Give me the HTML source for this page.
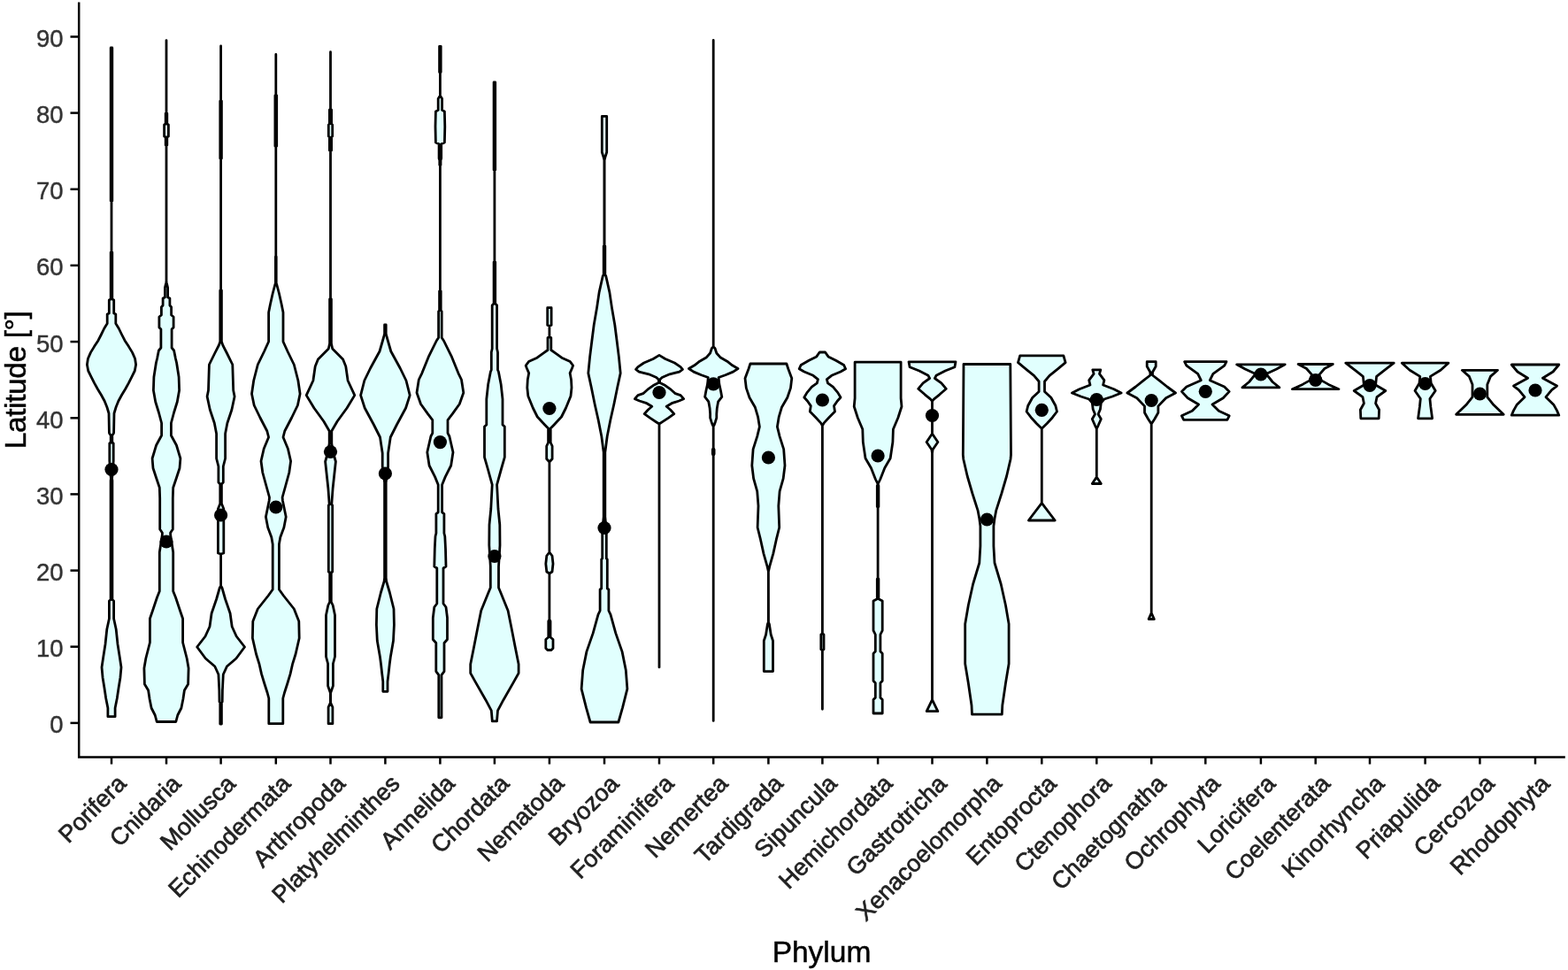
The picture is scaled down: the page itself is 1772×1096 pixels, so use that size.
<!DOCTYPE html>
<html><head><meta charset="utf-8"><title>Violin plot</title>
<style>html,body{margin:0;padding:0;background:#fff;}body{width:1772px;height:1096px;overflow:hidden;}svg{display:block;}</style>
</head><body>
<svg width="1772" height="1096" viewBox="0 0 1772 1096">
<rect width="1772" height="1096" fill="#fff"/>
<g fill="#e1fffe" stroke="#000" stroke-width="2.8" stroke-linejoin="round">
<path d="M126.8,54.0 L126.8,227.0 L126.0,228.0 L126.0,284.0 L126.8,285.0 L126.8,338.0 L128.7,339.0 L128.7,354.0 L130.8,355.0 L130.8,365.6 L134.2,371.0 L137.6,378.0 L141.0,384.7 L145.5,391.6 L149.6,398.4 L152.6,405.3 L153.6,412.0 L152.3,419.0 L148.9,425.8 L145.5,432.6 L141.7,439.5 L137.6,446.3 L133.8,453.2 L131.1,460.0 L129.0,467.0 L128.6,489.0 L128.2,490.0 L126.8,492.0 L126.8,500.0 L128.2,501.0 L128.2,521.0 L126.6,541.0 L126.9,543.0 L126.9,675.0 L126.9,677.5 L128.6,679.0 L128.6,699.0 L131.2,711.0 L133.0,728.0 L135.2,742.0 L137.0,754.0 L135.9,766.0 L134.1,777.0 L132.3,789.0 L130.1,800.0 L130.1,809.7 L121.9,809.7 L121.9,800.0 L119.7,789.0 L117.9,777.0 L116.1,766.0 L115.0,754.0 L116.8,742.0 L119.0,728.0 L120.8,711.0 L123.4,699.0 L123.4,679.0 L125.1,677.5 L125.1,675.0 L125.1,543.0 L125.4,541.0 L123.8,521.0 L123.8,501.0 L125.2,500.0 L125.2,492.0 L123.8,490.0 L123.4,489.0 L123.0,467.0 L120.9,460.0 L118.2,453.2 L114.4,446.3 L110.3,439.5 L106.5,432.6 L103.1,425.8 L99.7,419.0 L98.4,412.0 L99.4,405.3 L102.4,398.4 L106.5,391.6 L111.0,384.7 L114.4,378.0 L117.8,371.0 L121.2,365.6 L121.2,355.0 L123.3,354.0 L123.3,339.0 L125.2,338.0 L125.2,285.0 L126.0,284.0 L126.0,228.0 L125.2,227.0 L125.2,54.0Z"/>
<path d="M188.0,45.6 L188.0,127.0 L188.8,128.0 L188.8,140.0 L190.4,141.0 L190.4,154.0 L188.8,155.0 L188.8,164.0 L188.0,165.0 L188.0,318.0 L188.4,320.0 L189.6,325.0 L189.6,336.0 L191.9,337.0 L191.9,345.0 L193.6,347.0 L193.6,356.0 L196.1,358.0 L196.1,370.0 L194.1,372.0 L194.1,393.0 L196.6,396.0 L198.4,405.0 L199.6,410.0 L202.1,426.0 L202.6,441.0 L200.3,454.0 L196.6,466.0 L193.4,478.0 L193.4,492.0 L199.4,503.0 L203.9,518.0 L203.0,529.0 L199.4,540.0 L195.7,551.0 L195.3,563.0 L195.3,598.0 L192.6,602.0 L192.6,604.0 L195.7,624.0 L195.7,668.0 L198.5,675.0 L203.5,690.0 L206.6,699.0 L206.6,726.0 L211.2,744.0 L213.1,755.0 L212.6,773.0 L208.4,780.0 L206.9,790.0 L204.9,800.0 L200.8,808.0 L198.8,815.5 L177.2,815.5 L175.2,808.0 L171.1,800.0 L169.1,790.0 L167.6,780.0 L163.4,773.0 L162.9,755.0 L164.8,744.0 L169.4,726.0 L169.4,699.0 L172.5,690.0 L177.5,675.0 L180.3,668.0 L180.3,624.0 L183.4,604.0 L183.4,602.0 L180.7,598.0 L180.7,563.0 L180.3,551.0 L176.6,540.0 L173.0,529.0 L172.1,518.0 L176.6,503.0 L182.6,492.0 L182.6,478.0 L179.4,466.0 L175.7,454.0 L173.4,441.0 L173.9,426.0 L176.4,410.0 L177.6,405.0 L179.4,396.0 L181.9,393.0 L181.9,372.0 L179.9,370.0 L179.9,358.0 L182.4,356.0 L182.4,347.0 L184.1,345.0 L184.1,337.0 L186.4,336.0 L186.4,325.0 L187.6,320.0 L188.0,318.0 L188.0,165.0 L187.2,164.0 L187.2,155.0 L185.6,154.0 L185.6,141.0 L187.2,140.0 L187.2,128.0 L188.0,127.0 L188.0,45.6Z"/>
<path d="M249.6,52.0 L249.6,113.0 L250.4,114.0 L250.4,179.0 L249.6,180.0 L249.6,327.0 L250.4,328.0 L250.4,386.0 L251.8,390.0 L256.4,399.0 L262.8,412.0 L263.7,441.0 L265.1,448.0 L261.9,463.0 L256.9,478.0 L254.6,490.0 L254.6,518.0 L252.3,527.0 L252.3,545.0 L250.4,547.0 L250.4,569.0 L252.8,575.0 L252.8,589.0 L252.8,625.0 L249.6,626.0 L249.6,662.0 L250.9,664.0 L254.6,677.0 L260.1,693.0 L262.2,708.0 L267.2,719.0 L276.5,731.0 L266.9,744.0 L256.4,753.0 L252.3,762.0 L251.4,780.0 L251.2,793.0 L250.4,794.0 L250.4,818.0 L248.8,818.0 L248.8,794.0 L248.0,793.0 L247.8,780.0 L246.9,762.0 L242.8,753.0 L232.3,744.0 L222.7,731.0 L232.0,719.0 L237.0,708.0 L239.1,693.0 L244.6,677.0 L248.3,664.0 L249.6,662.0 L249.6,626.0 L246.4,625.0 L246.4,589.0 L246.4,575.0 L248.8,569.0 L248.8,547.0 L246.9,545.0 L246.9,527.0 L244.6,518.0 L244.6,490.0 L242.3,478.0 L237.3,463.0 L234.1,448.0 L235.5,441.0 L236.4,412.0 L242.8,399.0 L247.4,390.0 L248.8,386.0 L248.8,328.0 L249.6,327.0 L249.6,180.0 L248.8,179.0 L248.8,114.0 L249.6,113.0 L249.6,52.0Z"/>
<path d="M311.8,61.5 L311.8,107.0 L312.7,108.0 L312.7,165.0 L311.8,166.0 L311.8,289.0 L312.2,290.0 L312.2,320.0 L312.9,322.0 L315.4,331.5 L318.2,344.0 L320.0,353.0 L320.0,386.0 L325.0,397.0 L332.3,412.0 L336.9,430.0 L339.1,445.0 L336.4,458.0 L329.6,472.0 L321.8,487.0 L320.0,494.0 L325.4,507.0 L328.6,521.0 L326.8,534.0 L322.7,549.0 L319.1,562.0 L319.5,566.0 L323.2,584.0 L320.9,596.0 L316.8,607.0 L315.4,615.0 L315.4,666.0 L320.4,673.0 L332.3,688.0 L337.8,702.0 L338.2,721.0 L334.1,739.0 L330.5,750.7 L328.1,761.4 L324.9,772.0 L321.4,783.0 L319.8,789.0 L319.8,817.7 L303.8,817.7 L303.8,789.0 L302.2,783.0 L298.7,772.0 L295.5,761.4 L293.1,750.7 L289.5,739.0 L285.4,721.0 L285.8,702.0 L291.3,688.0 L303.2,673.0 L308.2,666.0 L308.2,615.0 L306.8,607.0 L302.7,596.0 L300.4,584.0 L304.1,566.0 L304.5,562.0 L300.9,549.0 L296.8,534.0 L295.0,521.0 L298.2,507.0 L303.6,494.0 L301.8,487.0 L294.0,472.0 L287.2,458.0 L284.5,445.0 L286.7,430.0 L291.3,412.0 L298.6,397.0 L303.6,386.0 L303.6,353.0 L305.4,344.0 L308.2,331.5 L310.7,322.0 L311.4,320.0 L311.4,290.0 L311.8,289.0 L311.8,166.0 L310.9,165.0 L310.9,108.0 L311.8,107.0 L311.8,61.5Z"/>
<path d="M373.5,58.7 L373.5,123.0 L374.6,124.0 L374.6,140.0 L375.7,141.0 L375.7,154.0 L374.6,155.0 L374.6,170.0 L373.5,171.0 L373.5,337.0 L374.4,338.0 L374.4,388.0 L375.7,394.0 L387.6,406.0 L390.8,414.0 L393.1,430.0 L400.8,446.6 L392.1,461.0 L381.2,476.0 L374.8,487.0 L374.8,501.0 L376.1,510.0 L379.4,521.5 L376.1,552.0 L374.8,570.0 L375.7,571.0 L375.7,646.0 L374.3,647.0 L374.3,680.0 L376.2,684.0 L378.5,695.0 L378.5,742.0 L376.4,750.0 L376.4,775.0 L373.6,783.0 L373.6,794.0 L375.9,799.0 L375.9,817.7 L371.1,817.7 L371.1,799.0 L373.4,794.0 L373.4,783.0 L370.6,775.0 L370.6,750.0 L368.5,742.0 L368.5,695.0 L370.8,684.0 L372.7,680.0 L372.7,647.0 L371.3,646.0 L371.3,571.0 L372.2,570.0 L370.9,552.0 L367.6,521.5 L370.9,510.0 L372.2,501.0 L372.2,487.0 L365.8,476.0 L354.9,461.0 L346.2,446.6 L353.9,430.0 L356.2,414.0 L359.4,406.0 L371.3,394.0 L372.6,388.0 L372.6,338.0 L373.5,337.0 L373.5,171.0 L372.4,170.0 L372.4,155.0 L371.3,154.0 L371.3,141.0 L372.4,140.0 L372.4,124.0 L373.5,123.0 L373.5,58.7Z"/>
<path d="M436.2,367.0 L436.2,377.0 L437.2,381.0 L441.8,397.0 L452.2,416.0 L459.0,430.0 L463.2,446.6 L458.6,461.0 L448.6,479.5 L441.3,494.0 L438.6,512.0 L438.6,527.0 L436.2,545.0 L436.2,653.0 L436.7,657.0 L440.4,669.5 L445.0,688.0 L445.4,706.0 L444.5,724.0 L441.3,742.5 L440.2,751.0 L439.1,761.0 L438.0,770.0 L438.0,781.3 L432.8,781.3 L432.8,770.0 L431.7,761.0 L430.6,751.0 L429.5,742.5 L426.3,724.0 L425.4,706.0 L425.8,688.0 L430.4,669.5 L434.1,657.0 L434.6,653.0 L434.6,545.0 L432.2,527.0 L432.2,512.0 L429.5,494.0 L422.2,479.5 L412.2,461.0 L407.6,446.6 L411.8,430.0 L418.6,416.0 L429.0,397.0 L433.6,381.0 L434.6,377.0 L434.6,367.0Z"/>
<path d="M498.2,52.3 L498.2,81.5 L497.4,82.0 L497.4,108.0 L499.6,111.6 L499.6,124.4 L502.4,126.0 L502.8,143.0 L502.4,161.0 L498.7,162.7 L498.7,179.0 L498.0,181.0 L498.0,186.5 L497.4,187.0 L497.4,328.5 L498.2,329.0 L498.2,350.4 L499.2,352.0 L499.2,381.5 L501.5,385.0 L510.6,403.4 L517.9,421.6 L521.5,429.0 L523.8,443.7 L519.3,456.5 L511.5,467.4 L506.0,474.7 L506.0,489.3 L507.9,493.0 L512.0,511.0 L509.7,526.0 L503.3,538.6 L499.6,547.7 L499.6,578.8 L501.9,580.6 L501.9,602.5 L502.8,606.0 L503.5,620.0 L504.0,640.0 L501.0,642.0 L501.0,682.0 L504.0,686.0 L505.5,698.0 L505.5,722.5 L502.0,726.5 L502.0,758.6 L499.0,762.6 L499.0,810.8 L495.8,810.8 L495.8,762.6 L492.8,758.6 L492.8,726.5 L489.3,722.5 L489.3,698.0 L490.8,686.0 L493.8,682.0 L493.8,642.0 L490.8,640.0 L491.3,620.0 L492.0,606.0 L492.9,602.5 L492.9,580.6 L495.2,578.8 L495.2,547.7 L491.5,538.6 L485.1,526.0 L482.8,511.0 L486.9,493.0 L488.8,489.3 L488.8,474.7 L483.3,467.4 L475.5,456.5 L471.0,443.7 L473.3,429.0 L476.9,421.6 L484.2,403.4 L493.3,385.0 L495.6,381.5 L495.6,352.0 L496.6,350.4 L496.6,329.0 L497.4,328.5 L497.4,187.0 L496.8,186.5 L496.8,181.0 L496.1,179.0 L496.1,162.7 L492.4,161.0 L492.0,143.0 L492.4,126.0 L495.2,124.4 L495.2,111.6 L497.4,108.0 L497.4,82.0 L496.6,81.5 L496.6,52.3Z"/>
<path d="M559.7,93.0 L559.7,192.0 L558.9,193.0 L558.9,295.7 L559.7,296.0 L559.7,343.0 L561.6,345.0 L561.6,394.0 L562.5,398.0 L562.5,418.0 L563.4,420.0 L566.2,434.6 L568.0,451.0 L568.0,480.0 L570.3,482.0 L570.3,516.7 L566.6,529.5 L561.6,547.7 L563.0,575.0 L564.8,593.0 L565.0,616.0 L563.5,640.0 L563.5,664.0 L566.0,670.0 L574.1,690.0 L578.1,710.0 L582.1,730.5 L586.1,750.6 L586.1,760.6 L580.5,770.6 L569.0,790.7 L562.5,802.8 L561.5,814.8 L556.3,814.8 L555.3,802.8 L548.8,790.7 L537.3,770.6 L531.7,760.6 L531.7,750.6 L535.7,730.5 L539.7,710.0 L543.7,690.0 L551.8,670.0 L554.3,664.0 L554.3,640.0 L552.8,616.0 L553.0,593.0 L554.8,575.0 L556.2,547.7 L551.2,529.5 L547.5,516.7 L547.5,482.0 L549.8,480.0 L549.8,451.0 L551.6,434.6 L554.4,420.0 L555.3,418.0 L555.3,398.0 L556.2,394.0 L556.2,345.0 L558.1,343.0 L558.1,296.0 L558.9,295.7 L558.9,193.0 L558.1,192.0 L558.1,93.0Z"/>
<path d="M623.1,347.7 L623.1,367.4 L620.9,368.0 L620.9,380.9 L622.8,381.5 L622.8,395.5 L626.8,398.4 L634.8,404.2 L644.3,408.6 L647.6,413.0 L646.5,416.0 L644.1,421.6 L645.5,429.0 L646.0,438.0 L645.0,447.4 L639.5,461.0 L634.5,471.0 L625.9,480.2 L622.2,484.0 L622.2,500.0 L624.1,504.0 L624.1,518.5 L620.9,522.0 L620.9,624.0 L624.0,628.0 L625.0,637.0 L624.0,646.0 L620.9,648.0 L620.9,700.0 L622.0,702.0 L622.0,720.0 L625.0,722.5 L625.0,732.5 L623.0,734.5 L618.8,734.5 L616.8,732.5 L616.8,722.5 L619.8,720.0 L619.8,702.0 L620.9,700.0 L620.9,648.0 L617.8,646.0 L616.8,637.0 L617.8,628.0 L620.9,624.0 L620.9,522.0 L617.7,518.5 L617.7,504.0 L619.6,500.0 L619.6,484.0 L615.9,480.2 L607.3,471.0 L602.3,461.0 L596.8,447.4 L595.8,438.0 L596.3,429.0 L597.7,421.6 L595.3,416.0 L594.2,413.0 L597.5,408.6 L607.0,404.2 L615.0,398.4 L619.0,395.5 L619.0,381.5 L620.9,380.9 L620.9,368.0 L618.7,367.4 L618.7,347.7Z"/>
<path d="M685.7,131.4 L685.7,172.0 L684.1,177.0 L683.1,181.0 L683.1,277.4 L683.8,278.0 L683.8,310.3 L684.8,312.0 L688.9,330.4 L691.6,348.6 L694.8,367.0 L697.1,385.0 L699.4,403.4 L701.2,421.6 L697.6,438.2 L693.9,456.5 L689.8,474.7 L686.2,493.0 L684.3,507.6 L683.8,511.0 L683.8,584.0 L685.3,600.0 L685.3,631.0 L686.3,632.0 L686.3,665.0 L687.9,666.0 L687.9,690.0 L690.0,694.4 L695.8,715.4 L703.1,736.4 L707.3,757.3 L708.9,778.3 L703.6,799.3 L698.9,816.0 L667.1,816.0 L662.4,799.3 L657.1,778.3 L658.7,757.3 L662.9,736.4 L670.2,715.4 L676.0,694.4 L678.1,690.0 L678.1,666.0 L679.7,665.0 L679.7,632.0 L680.7,631.0 L680.7,600.0 L682.2,584.0 L682.2,511.0 L681.7,507.6 L679.8,493.0 L676.2,474.7 L672.1,456.5 L668.4,438.2 L664.8,421.6 L666.6,403.4 L668.9,385.0 L671.2,367.0 L674.4,348.6 L677.1,330.4 L681.2,312.0 L682.2,310.3 L682.2,278.0 L682.9,277.4 L682.9,181.0 L681.9,177.0 L680.3,172.0 L680.3,131.4Z"/>
<path d="M745.0,401.4 L751.8,405.5 L762.3,410.0 L769.1,414.6 L771.4,417.4 L767.8,420.1 L756.8,422.8 L748.2,426.5 L745.4,429.2 L745.8,432.4 L751.8,435.6 L758.2,440.2 L763.2,444.7 L769.1,446.6 L772.6,450.7 L767.3,453.0 L759.1,455.7 L753.2,459.3 L757.6,463.0 L761.8,467.6 L755.5,472.1 L748.6,476.7 L745.0,479.0 L745.0,753.9 L745.0,753.9 L745.0,479.0 L741.4,476.7 L734.5,472.1 L728.2,467.6 L732.4,463.0 L736.8,459.3 L730.9,455.7 L722.7,453.0 L717.4,450.7 L720.9,446.6 L726.8,444.7 L731.8,440.2 L738.2,435.6 L744.2,432.4 L744.6,429.2 L741.8,426.5 L733.2,422.8 L722.2,420.1 L718.6,417.4 L720.9,414.6 L727.7,410.0 L738.2,405.5 L745.0,401.4Z"/>
<path d="M806.2,45.5 L806.2,391.8 L808.0,393.5 L809.8,399.0 L813.9,403.7 L821.7,408.2 L827.6,412.8 L834.0,416.5 L828.5,420.1 L819.8,423.8 L812.1,426.5 L812.8,433.8 L814.4,441.1 L815.8,448.4 L811.6,453.9 L810.3,461.2 L809.8,467.6 L809.8,472.1 L808.4,476.7 L807.1,480.3 L806.2,481.5 L806.2,506.0 L807.1,508.0 L807.1,513.0 L806.2,515.0 L806.2,814.4 L806.2,814.4 L806.2,515.0 L805.3,513.0 L805.3,508.0 L806.2,506.0 L806.2,481.5 L805.3,480.3 L804.0,476.7 L802.6,472.1 L802.6,467.6 L802.1,461.2 L800.8,453.9 L796.6,448.4 L798.0,441.1 L799.6,433.8 L800.3,426.5 L792.6,423.8 L783.9,420.1 L778.4,416.5 L784.8,412.8 L790.7,408.2 L798.5,403.7 L802.6,399.0 L804.4,393.5 L806.2,391.8 L806.2,45.5Z"/>
<path d="M888.9,411.0 L890.7,416.5 L894.8,427.4 L893.5,438.4 L889.8,449.3 L883.4,460.3 L880.2,471.2 L878.4,482.2 L881.1,493.1 L885.7,507.7 L887.0,526.0 L885.2,540.6 L881.1,555.2 L879.8,571.6 L880.7,596.0 L877.3,609.7 L873.8,625.6 L869.9,639.3 L868.4,646.0 L868.5,703.0 L869.4,705.2 L871.2,717.0 L873.5,724.0 L873.5,758.6 L863.3,758.6 L863.3,724.0 L865.6,717.0 L867.4,705.2 L868.3,703.0 L868.4,646.0 L866.9,639.3 L863.0,625.6 L859.5,609.7 L856.1,596.0 L857.0,571.6 L855.7,555.2 L851.6,540.6 L849.8,526.0 L851.1,507.7 L855.7,493.1 L858.4,482.2 L856.6,471.2 L853.4,460.3 L847.0,449.3 L843.3,438.4 L842.0,427.4 L846.1,416.5 L847.9,411.0Z"/>
<path d="M932.6,398.0 L936.0,402.9 L944.6,407.2 L953.7,412.5 L955.6,416.8 L950.0,420.0 L939.8,424.3 L934.4,428.6 L935.5,432.9 L941.4,437.2 L946.8,443.6 L950.0,449.0 L946.2,453.3 L942.5,458.6 L943.5,465.0 L937.1,471.5 L931.2,477.9 L929.4,481.0 L929.4,716.0 L931.0,717.0 L931.0,733.7 L929.4,734.5 L929.4,801.3 L929.4,801.3 L929.4,734.5 L927.8,733.7 L927.8,717.0 L929.4,716.0 L929.4,481.0 L927.6,477.9 L921.7,471.5 L915.3,465.0 L916.3,458.6 L912.6,453.3 L908.8,449.0 L912.0,443.6 L917.4,437.2 L923.3,432.9 L924.4,428.6 L919.0,424.3 L908.8,420.0 L903.2,416.8 L905.1,412.5 L914.2,407.2 L922.8,402.9 L926.2,398.0Z"/>
<path d="M1018.1,409.2 L1018.1,450.0 L1019.0,459.3 L1014.9,472.0 L1009.4,485.0 L1008.9,499.5 L1006.2,517.7 L999.8,528.7 L994.8,541.5 L992.1,547.0 L992.9,548.8 L992.9,572.5 L992.1,573.0 L992.1,653.0 L992.9,654.0 L992.9,676.8 L997.2,679.0 L997.2,712.3 L994.9,717.0 L994.9,736.0 L997.2,738.4 L997.2,769.3 L994.9,771.7 L994.9,788.3 L997.2,790.6 L997.2,806.0 L987.0,806.0 L987.0,790.6 L989.3,788.3 L989.3,771.7 L987.0,769.3 L987.0,738.4 L989.3,736.0 L989.3,717.0 L987.0,712.3 L987.0,679.0 L991.3,676.8 L991.3,654.0 L992.1,653.0 L992.1,573.0 L991.3,572.5 L991.3,548.8 L992.1,547.0 L989.4,541.5 L984.4,528.7 L978.0,517.7 L975.3,499.5 L974.8,485.0 L969.3,472.0 L965.2,459.3 L966.1,450.0 L966.1,409.2Z"/>
<path d="M1080.0,408.8 L1078.9,414.7 L1068.2,419.0 L1058.0,424.3 L1056.4,427.5 L1063.9,432.9 L1069.3,439.3 L1061.8,445.8 L1055.3,451.1 L1053.5,453.3 L1053.5,490.0 L1059.9,499.5 L1054.1,508.0 L1053.5,512.0 L1053.5,790.6 L1059.8,803.7 L1047.2,803.7 L1053.5,790.6 L1053.5,512.0 L1052.9,508.0 L1047.1,499.5 L1053.5,490.0 L1053.5,453.3 L1051.7,451.1 L1045.2,445.8 L1037.7,439.3 L1043.1,432.9 L1050.6,427.5 L1049.0,424.3 L1038.8,419.0 L1028.1,414.7 L1027.0,408.8Z"/>
<path d="M1141.8,411.5 L1142.5,514.0 L1142.0,519.0 L1137.6,538.0 L1131.9,557.5 L1125.8,576.6 L1124.0,586.0 L1122.9,594.5 L1122.9,617.0 L1124.0,636.0 L1131.2,660.0 L1136.5,684.0 L1140.1,705.0 L1140.1,750.0 L1136.5,771.7 L1132.8,797.0 L1132.3,807.2 L1098.5,807.2 L1098.0,797.0 L1094.3,771.7 L1090.7,750.0 L1090.7,705.0 L1094.3,684.0 L1099.6,660.0 L1106.8,636.0 L1107.9,617.0 L1107.9,594.5 L1106.8,586.0 L1105.0,576.6 L1098.9,557.5 L1093.2,538.0 L1088.8,519.0 L1088.3,514.0 L1089.0,411.5Z"/>
<path d="M1201.9,401.8 L1204.1,409.7 L1194.5,417.6 L1186.1,424.3 L1180.5,431.0 L1180.5,442.4 L1187.8,449.2 L1192.8,458.2 L1194.5,465.0 L1189.4,471.7 L1183.2,478.5 L1177.3,484.2 L1177.3,568.3 L1192.2,588.0 L1162.4,588.0 L1177.3,568.3 L1177.3,484.2 L1171.4,478.5 L1165.2,471.7 L1160.1,465.0 L1161.8,458.2 L1166.8,449.2 L1174.1,442.4 L1174.1,431.0 L1168.5,424.3 L1160.1,417.6 L1150.5,409.7 L1152.7,401.8Z"/>
<path d="M1243.8,417.8 L1242.5,422.4 L1247.9,429.7 L1246.6,435.0 L1258.9,439.7 L1267.1,444.0 L1257.1,448.0 L1247.9,451.0 L1244.3,455.2 L1243.4,462.5 L1241.1,468.0 L1244.3,473.5 L1241.1,480.8 L1239.3,484.4 L1239.3,539.0 L1244.3,546.5 L1234.3,546.5 L1239.3,539.0 L1239.3,484.4 L1237.5,480.8 L1234.3,473.5 L1237.5,468.0 L1235.2,462.5 L1234.3,455.2 L1230.7,451.0 L1221.5,448.0 L1211.5,444.0 L1219.7,439.7 L1232.0,435.0 L1230.7,429.7 L1236.1,422.4 L1234.8,417.8Z"/>
<path d="M1306.2,408.7 L1306.2,414.0 L1302.5,420.5 L1302.5,424.0 L1309.8,429.7 L1319.0,437.0 L1328.5,444.0 L1317.6,449.7 L1308.9,458.9 L1308.9,466.2 L1304.8,473.5 L1301.2,479.0 L1301.2,692.5 L1304.3,699.5 L1298.1,699.5 L1301.2,692.5 L1301.2,479.0 L1297.6,473.5 L1293.5,466.2 L1293.5,458.9 L1284.8,449.7 L1273.9,444.0 L1283.4,437.0 L1292.6,429.7 L1299.9,424.0 L1299.9,420.5 L1296.2,414.0 L1296.2,408.7Z"/>
<path d="M1386.0,408.7 L1383.7,413.2 L1370.9,422.4 L1367.3,429.7 L1383.7,437.0 L1389.2,442.4 L1382.3,449.7 L1370.0,457.0 L1377.3,464.3 L1389.2,469.8 L1386.9,474.4 L1337.7,474.4 L1335.4,469.8 L1347.3,464.3 L1354.6,457.0 L1342.3,449.7 L1335.4,442.4 L1340.9,437.0 L1357.3,429.7 L1353.7,422.4 L1340.9,413.2 L1338.6,408.7Z"/>
<path d="M1452.2,411.8 L1442.7,416.9 L1430.8,422.4 L1438.1,431.5 L1445.9,437.9 L1403.9,437.9 L1411.7,431.5 L1419.0,422.4 L1407.1,416.9 L1397.6,411.8Z"/>
<path d="M1506.3,411.5 L1496.9,416.5 L1490.7,423.6 L1493.3,429.9 L1501.4,434.4 L1513.0,439.7 L1460.4,439.7 L1472.0,434.4 L1480.1,429.9 L1482.7,423.6 L1476.5,416.5 L1467.1,411.5Z"/>
<path d="M1575.2,410.2 L1564.5,418.3 L1555.6,425.4 L1554.6,435.0 L1565.8,441.5 L1556.0,448.7 L1554.6,455.8 L1558.6,463.0 L1558.2,472.8 L1537.8,472.8 L1537.4,463.0 L1541.4,455.8 L1540.0,448.7 L1530.2,441.5 L1541.4,435.0 L1540.4,425.4 L1531.5,418.3 L1520.8,410.2Z"/>
<path d="M1636.9,410.2 L1628.0,418.3 L1616.4,425.4 L1617.2,433.0 L1622.2,441.5 L1615.9,450.5 L1616.8,459.4 L1618.6,472.8 L1602.6,472.8 L1604.4,459.4 L1605.3,450.5 L1599.0,441.5 L1604.0,433.0 L1604.8,425.4 L1593.2,418.3 L1584.3,410.2Z"/>
<path d="M1692.5,418.3 L1684.4,425.4 L1680.8,434.4 L1680.8,448.7 L1688.0,457.6 L1699.2,468.3 L1645.6,468.3 L1656.8,457.6 L1664.0,448.7 L1664.0,434.4 L1660.4,425.4 L1652.3,418.3Z"/>
<path d="M1761.8,412.0 L1755.1,420.0 L1743.4,427.2 L1759.5,436.1 L1753.6,440.6 L1747.0,448.7 L1756.0,457.6 L1759.5,463.9 L1761.8,469.2 L1708.2,469.2 L1710.5,463.9 L1714.0,457.6 L1723.0,448.7 L1716.4,440.6 L1710.5,436.1 L1726.6,427.2 L1714.9,420.0 L1708.2,412.0Z"/>
</g>
<g fill="#000">
<circle cx="126.0" cy="530.5" r="7.6"/>
<circle cx="188.0" cy="612.0" r="7.6"/>
<circle cx="249.6" cy="582.0" r="7.6"/>
<circle cx="311.8" cy="573.0" r="7.6"/>
<circle cx="373.5" cy="510.5" r="7.6"/>
<circle cx="435.4" cy="535.0" r="7.6"/>
<circle cx="497.4" cy="499.6" r="7.6"/>
<circle cx="558.9" cy="628.5" r="7.6"/>
<circle cx="620.9" cy="461.5" r="7.6"/>
<circle cx="683.0" cy="596.5" r="7.6"/>
<circle cx="745.0" cy="443.5" r="7.6"/>
<circle cx="806.2" cy="433.8" r="7.6"/>
<circle cx="868.4" cy="517.0" r="7.6"/>
<circle cx="929.4" cy="452.0" r="7.6"/>
<circle cx="992.1" cy="515.0" r="7.6"/>
<circle cx="1053.5" cy="469.5" r="7.6"/>
<circle cx="1115.4" cy="587.0" r="7.6"/>
<circle cx="1177.3" cy="463.3" r="7.6"/>
<circle cx="1239.3" cy="451.5" r="7.6"/>
<circle cx="1301.2" cy="452.5" r="7.6"/>
<circle cx="1362.3" cy="442.3" r="7.6"/>
<circle cx="1424.9" cy="423.0" r="7.6"/>
<circle cx="1486.7" cy="429.5" r="7.6"/>
<circle cx="1548.0" cy="435.5" r="7.6"/>
<circle cx="1610.6" cy="433.5" r="7.6"/>
<circle cx="1672.4" cy="445.0" r="7.6"/>
<circle cx="1735.0" cy="441.0" r="7.6"/>
</g>
<g stroke="#000" stroke-width="2.5" fill="none">
<path d="M89.2,2.5 V855.5 H1768.8"/>
<path d="M79.5,816.9 H89.2"/>
<path d="M79.5,730.7 H89.2"/>
<path d="M79.5,644.6 H89.2"/>
<path d="M79.5,558.4 H89.2"/>
<path d="M79.5,472.3 H89.2"/>
<path d="M79.5,386.1 H89.2"/>
<path d="M79.5,299.9 H89.2"/>
<path d="M79.5,213.8 H89.2"/>
<path d="M79.5,127.6 H89.2"/>
<path d="M79.5,41.5 H89.2"/>
<path d="M126.0,855.5 V863.5"/>
<path d="M188.0,855.5 V863.5"/>
<path d="M249.6,855.5 V863.5"/>
<path d="M311.8,855.5 V863.5"/>
<path d="M373.5,855.5 V863.5"/>
<path d="M435.4,855.5 V863.5"/>
<path d="M497.4,855.5 V863.5"/>
<path d="M558.9,855.5 V863.5"/>
<path d="M620.9,855.5 V863.5"/>
<path d="M683.0,855.5 V863.5"/>
<path d="M745.0,855.5 V863.5"/>
<path d="M806.2,855.5 V863.5"/>
<path d="M868.4,855.5 V863.5"/>
<path d="M929.4,855.5 V863.5"/>
<path d="M992.1,855.5 V863.5"/>
<path d="M1053.5,855.5 V863.5"/>
<path d="M1115.4,855.5 V863.5"/>
<path d="M1177.3,855.5 V863.5"/>
<path d="M1239.3,855.5 V863.5"/>
<path d="M1301.2,855.5 V863.5"/>
<path d="M1362.3,855.5 V863.5"/>
<path d="M1424.9,855.5 V863.5"/>
<path d="M1486.7,855.5 V863.5"/>
<path d="M1548.0,855.5 V863.5"/>
<path d="M1610.6,855.5 V863.5"/>
<path d="M1672.4,855.5 V863.5"/>
<path d="M1735.0,855.5 V863.5"/>
</g>
<g font-family="Liberation Sans, sans-serif" font-size="27.5" fill="#333" stroke="#333" stroke-width="0.4" text-anchor="end">
<text x="71.5" y="828.4">0</text>
<text x="71.5" y="742.2">10</text>
<text x="71.5" y="656.1">20</text>
<text x="71.5" y="569.9">30</text>
<text x="71.5" y="483.8">40</text>
<text x="71.5" y="397.6">50</text>
<text x="71.5" y="311.4">60</text>
<text x="71.5" y="225.3">70</text>
<text x="71.5" y="139.1">80</text>
<text x="71.5" y="53.0">90</text>
</g>
<g font-family="Liberation Sans, sans-serif" font-size="27" fill="#222" stroke="#222" stroke-width="0.7" text-anchor="end">
<text transform="translate(144.0,887) rotate(-45)">Porifera</text>
<text transform="translate(206.0,887) rotate(-45)">Cnidaria</text>
<text transform="translate(267.6,887) rotate(-45)">Mollusca</text>
<text transform="translate(329.8,887) rotate(-45)">Echinodermata</text>
<text transform="translate(391.5,887) rotate(-45)">Arthropoda</text>
<text transform="translate(453.4,887) rotate(-45)">Platyhelminthes</text>
<text transform="translate(515.4,887) rotate(-45)">Annelida</text>
<text transform="translate(576.9,887) rotate(-45)">Chordata</text>
<text transform="translate(638.9,887) rotate(-45)">Nematoda</text>
<text transform="translate(701.0,887) rotate(-45)">Bryozoa</text>
<text transform="translate(763.0,887) rotate(-45)">Foraminifera</text>
<text transform="translate(824.2,887) rotate(-45)">Nemertea</text>
<text transform="translate(886.4,887) rotate(-45)">Tardigrada</text>
<text transform="translate(947.4,887) rotate(-45)">Sipuncula</text>
<text transform="translate(1010.1,887) rotate(-45)">Hemichordata</text>
<text transform="translate(1071.5,887) rotate(-45)">Gastrotricha</text>
<text transform="translate(1133.4,887) rotate(-45)">Xenacoelomorpha</text>
<text transform="translate(1195.3,887) rotate(-45)">Entoprocta</text>
<text transform="translate(1257.3,887) rotate(-45)">Ctenophora</text>
<text transform="translate(1319.2,887) rotate(-45)">Chaetognatha</text>
<text transform="translate(1380.3,887) rotate(-45)">Ochrophyta</text>
<text transform="translate(1442.9,887) rotate(-45)">Loricifera</text>
<text transform="translate(1504.7,887) rotate(-45)">Coelenterata</text>
<text transform="translate(1566.0,887) rotate(-45)">Kinorhyncha</text>
<text transform="translate(1628.6,887) rotate(-45)">Priapulida</text>
<text transform="translate(1690.4,887) rotate(-45)">Cercozoa</text>
<text transform="translate(1753.0,887) rotate(-45)">Rhodophyta</text>
</g>
<text x="928.5" y="1087" font-family="Liberation Sans, sans-serif" font-size="33.5" fill="#000" stroke="#000" stroke-width="0.5" text-anchor="middle">Phylum</text>
<text transform="translate(29.2,429.4) rotate(-90)" font-family="Liberation Sans, sans-serif" font-size="33.5" letter-spacing="-0.4" fill="#000" stroke="#000" stroke-width="0.5" text-anchor="middle">Latitude [°]</text>
</svg>
</body></html>
